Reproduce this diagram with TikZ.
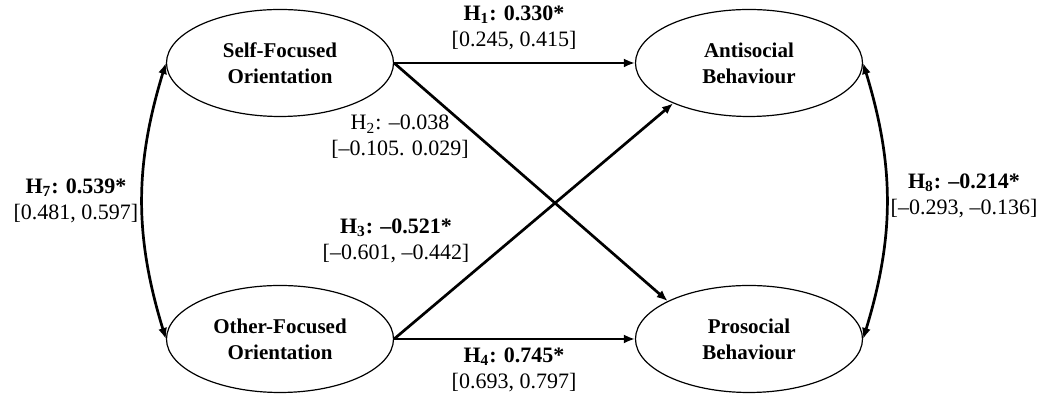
\documentclass[tikz,border=0pt]{standalone}
\usepackage{fontspec}
\setmainfont{Liberation Serif}
\usetikzlibrary{shapes.geometric,arrows.meta}

\begin{document}
\begin{tikzpicture}[x=0.5pt,y=0.5pt,
    construct/.style={shape=ellipse, draw, line width=0.6pt, minimum width=113.5pt,
        minimum height=53.5pt, inner sep=0pt, align=center,
        font=\fontsize{10.5}{13}\selectfont\bfseries},
    coef/.style={align=center, inner sep=0pt, font=\fontsize{11}{13}\selectfont},
    link/.style={line width=1.35pt, -{Latex[length=5.5pt,width=4.5pt]}},
    corr/.style={line width=1.35pt, {Latex[length=5.5pt,width=4.5pt]}-{Latex[length=5.5pt,width=4.5pt]}}]
    \useasboundingbox (0,0) rectangle (1046,400);

    % latent constructs
    \node[construct] (self) at (280,337) {Self-Focused\\Orientation};
    \node[construct] (other) at (280,61) {Other-Focused\\Orientation};
    \node[construct] (anti) at (749,337) {Antisocial\\Behaviour};
    \node[construct] (pro) at (749,61) {Prosocial\\Behaviour};

    % structural paths
    \draw[link] (self.east) -- (anti.west);
    \draw[link] (self.east) -- (pro.155);
    \draw[link] (other.east) -- (anti.208);
    \draw[link] (other.east) -- (pro.west);
    \draw[corr] (self.west) to[out=253, in=107] (other.west);
    \draw[corr] (anti.east) to[out=-73, in=73] (pro.east);

    % coefficients
    \node[coef] (h1) at (514,372) {\textbf{H\textsubscript{1}: 0.330*}\\{[}0.245, 0.415{]}};
    \node[coef] (h2) at (400,263) {H\textsubscript{2}: --0.038\\{[}--0.105. 0.029{]}};
    \node[coef] (h3) at (396,159) {\textbf{H\textsubscript{3}: --0.521*}\\{[}--0.601, --0.442{]}};
    \node[coef] (h4) at (514,30) {\textbf{H\textsubscript{4}: 0.745*}\\{[}0.693, 0.797{]}};
    \node[coef] (h7) at (76,199) {\textbf{H\textsubscript{7}: 0.539*}\\{[}0.481, 0.597{]}};
    \node[coef] (h8) at (964,204) {\textbf{H\textsubscript{8}: --0.214*}\\{[}--0.293, --0.136{]}};
\end{tikzpicture}
\end{document}
